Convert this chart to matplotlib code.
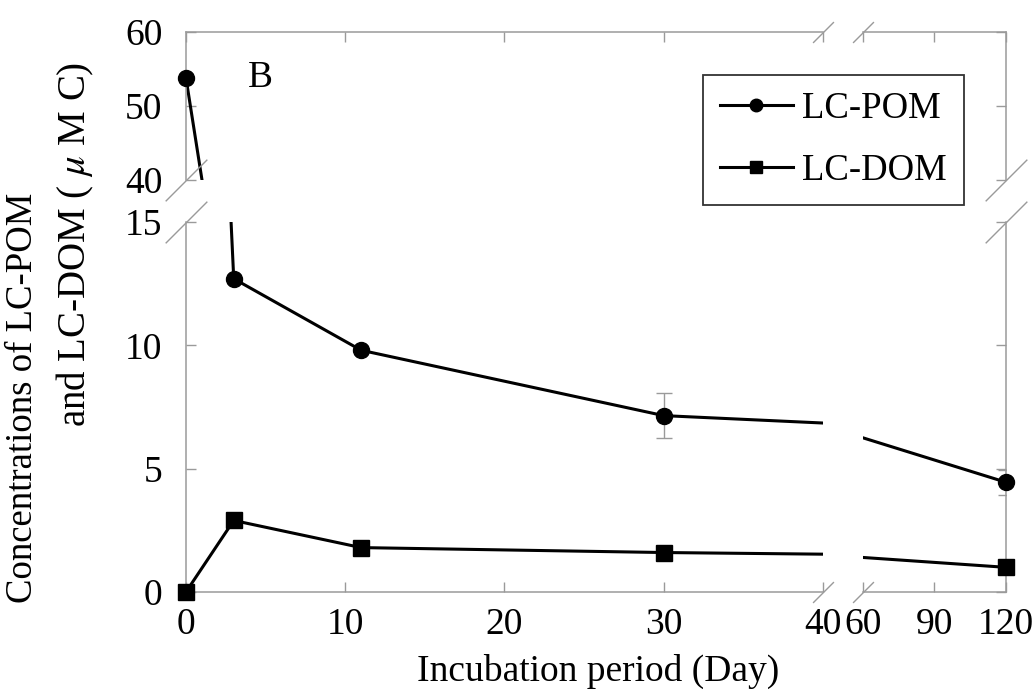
import matplotlib

matplotlib.use("Agg")
import matplotlib.pyplot as plt  # noqa: E402
import numpy as np  # noqa: E402

plt.rcParams["font.family"] = ["Liberation Serif", "DejaVu Serif"]
plt.rcParams["mathtext.fontset"] = "stix"

# data (panel B)
days = np.array([0, 3, 11, 30, 120])
pom = np.array([53.8, 12.7, 9.8, 7.15, 4.45])
pom_err = np.array([0, 0, 0, 0.9, 0.5])
dom = np.array([0.0, 2.9, 1.8, 1.6, 1.0])

x_left, x_right = (0, 40), (60, 120)
y_top, y_bot = (40, 60), (0, 15)
xt_left, xt_right = [0, 10, 20, 30, 40], [60, 90, 120]
yt_top, yt_bot = [40, 50, 60], [0, 5, 10, 15]

GREY = "#9a9a9a"
FS = 27

fig = plt.figure(figsize=(10.36, 6.95), dpi=100)
fig.patch.set_facecolor("white")
ax_tl = fig.add_axes([0.1795, 0.741, 0.6149, 0.213])
ax_bl = fig.add_axes([0.1795, 0.1482, 0.6149, 0.5324])
ax_tr = fig.add_axes([0.833, 0.741, 0.138, 0.213])
ax_br = fig.add_axes([0.833, 0.1482, 0.138, 0.5324])

panels = [(ax_tl, x_left, y_top), (ax_bl, x_left, y_bot),
          (ax_tr, x_right, y_top), (ax_br, x_right, y_bot)]

for ax, xl, yl in panels:
    ax.set_xlim(*xl); ax.set_ylim(*yl)
    for s in ax.spines.values():
        s.set_color(GREY); s.set_linewidth(1.1)
    ax.tick_params(direction="in", length=7, width=1, color=GREY,
                   labelsize=FS, top=True, right=True)
    ax.tick_params(axis="y", pad=17)
    ax.tick_params(axis="x", pad=11)
    ax.errorbar(days, pom, yerr=pom_err, fmt="none", ecolor=GREY,
                elinewidth=1, capsize=6, capthick=1, zorder=1)
    ax.plot(days, pom, "-", color="black", lw=2.2, zorder=2)
    ax.plot(days, dom, "-", color="black", lw=2.2, zorder=2)
    m = (days >= xl[0]) & (days <= xl[1])
    mp = m & (pom >= yl[0]) & (pom <= yl[1])
    md = m & (dom >= yl[0]) & (dom <= yl[1])
    ax.plot(days[mp], pom[mp], "o", color="black", ms=11.5, clip_on=False, zorder=3)
    ax.plot(days[md], dom[md], "s", color="black", ms=11.5, clip_on=False, zorder=3)

# hide the inner spines and ticks at the breaks
ax_tl.spines["bottom"].set_visible(False); ax_tl.spines["right"].set_visible(False)
ax_tl.tick_params(bottom=False, labelbottom=False, right=False)
ax_tl.set_xticks(xt_left); ax_tl.set_yticks(yt_top)

ax_bl.spines["top"].set_visible(False); ax_bl.spines["right"].set_visible(False)
ax_bl.tick_params(top=False, right=False)
ax_bl.set_xticks(xt_left); ax_bl.set_yticks(yt_bot)

ax_tr.spines["bottom"].set_visible(False); ax_tr.spines["left"].set_visible(False)
ax_tr.tick_params(bottom=False, labelbottom=False, left=False, labelleft=False)
ax_tr.set_xticks(xt_right); ax_tr.set_yticks(yt_top)

ax_br.spines["top"].set_visible(False); ax_br.spines["left"].set_visible(False)
ax_br.tick_params(top=False, left=False, labelleft=False)
ax_br.set_xticks(xt_right); ax_br.set_yticks(yt_bot)

# break marks
def slash(ax, x, y, size):
    ax.plot([x], [y], transform=ax.transAxes, marker=[(-1, -1), (1, 1)],
            markersize=size, color=GREY, mec=GREY, mew=1, ls="none", clip_on=False)

for ax, pt in [(ax_tl, (0, 0)), (ax_bl, (0, 1)), (ax_tr, (1, 0)), (ax_br, (1, 1))]:
    slash(ax, *pt, 30)
for ax, pt in [(ax_bl, (1, 0)), (ax_br, (0, 0)), (ax_tl, (1, 1)), (ax_tr, (0, 1))]:
    slash(ax, *pt, 15)

fig.text(0.251, 0.888, "B", fontsize=27, ha="center", va="center")
fig.text(0.577, 0.034, "Incubation period (Day)", fontsize=27, ha="center", va="center")
fig.text(0.022, 0.428, "Concentrations of LC-POM", fontsize=26.5, rotation=90,
         ha="center", va="center")
fig.text(0.073, 0.648, "and LC-DOM ( $\\mu$ M C)", fontsize=28, rotation=90,
         ha="center", va="center")

h1, = ax_tl.plot([], [], "-o", color="black", lw=2.2, ms=9)
h2, = ax_tl.plot([], [], "-s", color="black", lw=2.2, ms=9)
leg = fig.legend([h1, h2], ["LC-POM", "LC-DOM"], loc="upper left",
                 bbox_to_anchor=(0.6786, 0.892), fontsize=26.5, frameon=True,
                 fancybox=False, edgecolor="black", handlelength=2.0,
                 handletextpad=0.25, labelspacing=0.75, borderpad=0.45,
                 borderaxespad=0)
leg.get_frame().set_linewidth(1.3)

fig.savefig("out.png", dpi=100, facecolor="white")
